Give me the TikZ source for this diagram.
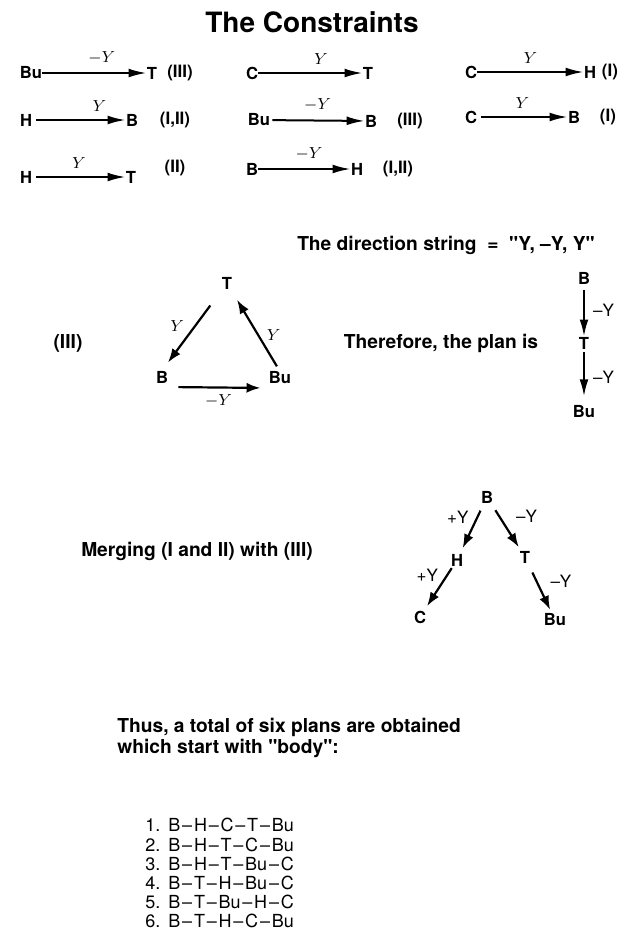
\documentclass[tikz,border=0pt]{standalone}
\usepackage{fontspec}
\setmainfont[Ligatures=TeXOff]{TeX Gyre Heros}
\usepackage{tikz}
\usetikzlibrary{
  arrows.meta,  % Latex arrow tips
  positioning   % relative placement
}
\newcommand\planstep{\kern0.9pt–\kern0.9pt}
\tikzset{
  atom/.style={
    font=\bfseries\fontsize{8.3}{9}\selectfont,
    inner sep=0pt
  },
  tagtext/.style={
    font=\bfseries\fontsize{8.5}{9}\selectfont
  },
  sentence/.style={
    font=\bfseries\fontsize{9.6}{8.5}\selectfont,
    align=left
  },
  constraint/.style={
    -{Latex[length=9pt,width=4.4pt]},
    line width=1pt
  },
  planarrow/.style={
    -{Latex[length=7pt,width=5pt]},
    line width=1.1pt
  },
  mathlabel/.style={
    font=\fontsize{8.3}{9}\selectfont,
    inner sep=1pt
  },
  arrowlabel/.style={
    font=\fontsize{8.5}{9}\selectfont,
    inner sep=1pt
  }
}

\begin{document}
\begin{tikzpicture}[x=0.5pt, y=-0.5pt]
  \useasboundingbox (0,0) rectangle (627,950);

  % 1. title and the constraints
  \node[font=\bfseries\fontsize{14}{16}\selectfont] (title) at (312,22) {The Constraints};

  % first column
  \node[atom] (bu1) at (31,73) {Bu};
  \node[atom] (t1) at (152,73) {T};
  \draw[constraint] (bu1) -- (t1) node[pos=0.57, above=3pt, mathlabel] {$-Y$};
  \node[tagtext] (tag1) at (180,73) {(III)};

  \node[atom] (h2) at (26,120) {H};
  \node[atom] (b2) at (132,120) {B};
  \draw[constraint, shorten <=2pt] (h2) -- (b2) node[pos=0.72, above=3pt, mathlabel] {$Y$};
  \node[tagtext] (tag2) at (175,120) {(I,II)};

  \node[atom] (h3) at (26,177) {H};
  \node[atom] (t3) at (131,177) {T};
  \draw[constraint, shorten <=2pt] (h3) -- (t3) node[midway, above=3pt, mathlabel] {$Y$};
  \node[tagtext] (tag3) at (175,168) {(II)};

  % second column
  \node[atom] (c4) at (252,73) {C};
  \node[atom] (t4) at (368,73) {T};
  \draw[constraint] (c4) -- (t4) node[pos=0.6, above=3pt, mathlabel] {$Y$};

  \node[atom] (bu5) at (259,120) {Bu};
  \node[atom] (b5) at (371,121) {B};
  \draw[constraint, shorten <=1pt] (bu5) -- (b5) node[midway, above=3pt, mathlabel] {$-Y$};
  \node[tagtext] (tag5) at (410,121) {(III)};

  \node[atom] (b6) at (252,169) {B};
  \node[atom] (h6) at (357,169) {H};
  \draw[constraint] (b6) -- (h6) node[pos=0.55, above=3pt, mathlabel] {$-Y$};
  \node[tagtext] (tag6) at (398,169) {(I,II)};

  % third column
  \node[atom] (c7) at (471,72) {C};
  \node[atom] (h7) at (590,72) {H};
  \draw[constraint] (c7) -- (h7) node[midway, above=3pt, mathlabel] {$Y$};
  \node[tagtext] (tag7) at (610,72) {(I)};

  \node[atom] (c8) at (471,117) {C};
  \node[atom] (b8) at (574,117) {B};
  \draw[constraint, shorten <=2pt] (c8) -- (b8) node[midway, above=3pt, mathlabel] {$Y$};
  \node[tagtext] (tag8) at (608,117) {(I)};

  % 2. direction string, triangle and plan
  \node[sentence] (dirstring) at (446,245) {The direction string \ =\ \ "Y, –Y, Y"};
  \node[sentence] (tri) at (68,343) {(III)};

  \node[atom] (tT) at (227,283) {T};
  \node[atom] (tB) at (162,377) {B};
  \node[atom] (tBu) at (280,378) {Bu};
  \draw[planarrow, shorten <=10pt, shorten >=5pt] (tT) -- (tB.north)
    node[pos=0.45, left=4pt, mathlabel] {$Y$};
  \draw[planarrow, shorten <=3pt, shorten >=6pt] (tBu.north) -- (tT)
    node[pos=0.45, right=3pt, mathlabel] {$Y$};
  \draw[planarrow, shorten <=5pt, shorten >=4pt] ([yshift=-5pt]tB.east) -- ([yshift=-5pt]tBu.west)
    node[midway, below=2pt, mathlabel] {$-Y$};

  \node[sentence] (therefore) at (441,343) {Therefore, the plan is};
  \node[atom] (pB) at (584,278) {B};
  \node[atom] (pT) at (584,343) {T};
  \node[atom] (pBu) at (584,412) {Bu};
  \draw[planarrow, -{Latex[length=8.5pt,width=4.4pt]}, shorten <=3pt] (pB) -- (pT)
    node[midway, right=3pt, arrowlabel] {–Y};
  \draw[planarrow, -{Latex[length=8.5pt,width=4.4pt]}, shorten <=1.5pt, shorten >=4.5pt] (pT) -- (pBu)
    node[midway, right=3pt, arrowlabel] {–Y};

  % 3. merging the plans
  \node[sentence] (merging) at (197,551) {Merging (I and II) with (III)};

  \node[atom] (mB) at (487,497) {B};
  \node[atom] (mH) at (457,560) {H};
  \node[atom] (mT) at (525,557) {T};
  \node[atom] (mC) at (420,617) {C};
  \node[atom] (mBu) at (555,620) {Bu};
  \draw[planarrow, shorten <=4pt, shorten >=3pt] (mB) -- (mH)
    node[pos=0.27, left=3pt, arrowlabel] {+Y};
  \draw[planarrow, shorten <=4pt, shorten >=2pt] (mB) -- (mT)
    node[pos=0.27, right=7pt, arrowlabel] {–Y};
  \draw[planarrow, shorten <=1pt, shorten >=2.5pt] (mH) -- (mC)
    node[pos=0.2, left=3pt, arrowlabel] {+Y};
  \draw[planarrow, shorten <=5pt, shorten >=2pt] (mT) -- (mBu)
    node[pos=0.35, right=5.5pt, arrowlabel] {–Y};

  % 4. the six plans
  \node[sentence, inner sep=0pt, anchor=north west] (thus) at (117,718)
    {Thus, a total of six plans are obtained\\which start with "body":};

  \node[inner sep=0pt, anchor=north west, align=left,
        font=\fontsize{9}{9.6}\selectfont] (plans) at (145,818)
    {1.\hspace{4pt}B\planstep H\planstep C\planstep T\planstep Bu\\
     2.\hspace{4pt}B\planstep H\planstep T\planstep C\planstep Bu\\
     3.\hspace{4pt}B\planstep H\planstep T\planstep Bu\planstep C\\
     4.\hspace{4pt}B\planstep T\planstep H\planstep Bu\planstep C\\
     5.\hspace{4pt}B\planstep T\planstep Bu\planstep H\planstep C\\
     6.\hspace{4pt}B\planstep T\planstep H\planstep C\planstep Bu};
\end{tikzpicture}
\end{document}
